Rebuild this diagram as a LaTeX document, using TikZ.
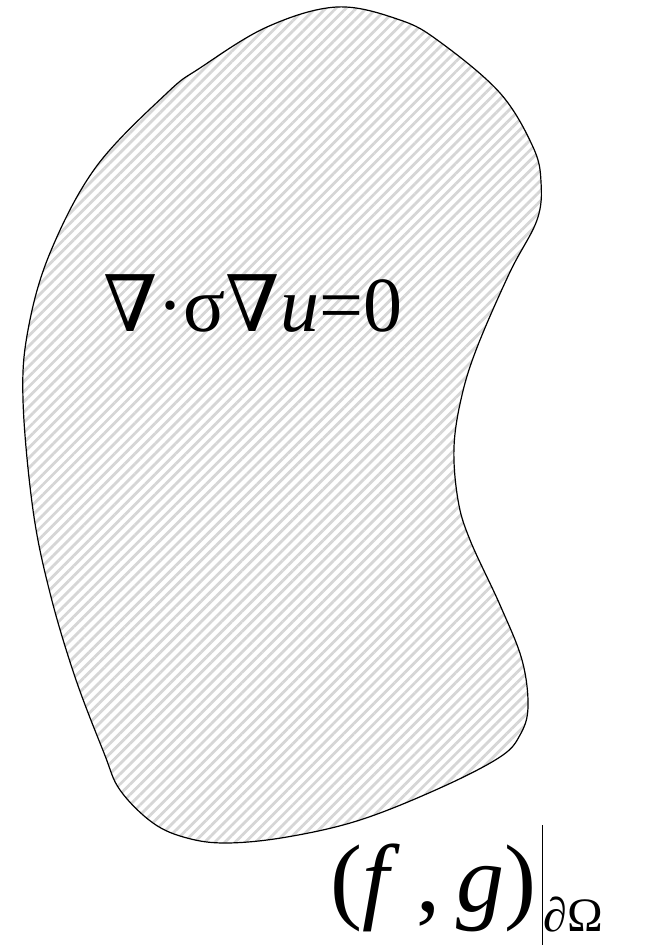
\documentclass[tikz,border=0pt]{standalone}
\usepackage{fontspec}
\setmainfont{Liberation Serif}
\newfontfamily\nablafont{DejaVu Serif}
\newcommand{\nablasym}{{\nablafont ∇}}
\usepackage{tikz}
\usetikzlibrary{patterns.meta}
\definecolor{hatchgray}{HTML}{D6D6D6}
\tikzset{
  domainLine/.style={draw=black, line width=0.6pt, pattern={Lines[angle=45,distance=3.6pt,line width=1.4pt]}, pattern color=hatchgray},
  pdeLabel/.style={anchor=base west, inner sep=0pt, font=\fontsize{39}{47}\selectfont},
  bcLabel/.style={anchor=base west, inner sep=0pt, font=\fontsize{48}{58}\selectfont}
}

\begin{document}
\begin{tikzpicture}[x=0.5pt,y=-0.5pt]
  \useasboundingbox (0,0) rectangle (649,945);
  % the domain Omega
  \draw[domainLine] plot[smooth cycle, tension=0.6] coordinates {
    (337,7) (400,20) (440,42) (500,93) (533,147) (541,182) (537,220) (510,272)
    (478,345) (462,395) (454,447) (458,500) (470,540) (500,605) (522,660)
    (528,707) (520,735) (500,757) (440,788) (360,820) (287,837) (227,843)
    (187,838) (153,823) (120,790) (104,753) (75,677) (50,593) (33,510)
    (23,400) (28,330) (50,253) (96,167) (167,93) (200,68) (267,27)};
  \node[pdeLabel] (pde) at (103,332) {\nablasym·σ\nablasym\textit{u}=0};
  \node[bcLabel] (bc) at (330,911) {(\textit{f}\,,\,\textit{g})\hspace{3pt}\rule[-20pt]{0.7pt}{63pt}\raisebox{-10pt}{\fontsize{24}{28}\selectfont ∂Ω}};
\end{tikzpicture}
\end{document}
